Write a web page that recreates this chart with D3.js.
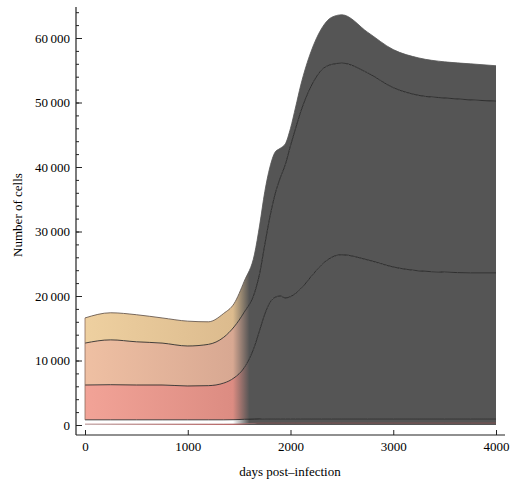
<!DOCTYPE html>
<html>
<head>
<meta charset="utf-8">
<script src="https://cdn.jsdelivr.net/npm/d3@7"></script>
<style>
  body { margin: 0; background: #fff; }
  text { font-family: "Liberation Serif", "DejaVu Serif", serif; }
</style>
</head>
<body>
<svg width="510" height="484"></svg>
<script>
// days post-infection where the curves are read
var days = [0, 250, 500, 750, 1000, 1200, 1350, 1450, 1550, 1650, 1700, 1750, 1800, 1850, 1900,
            1950, 2000, 2050, 2100, 2200, 2300, 2400, 2500, 2750, 3000, 3250, 3500, 3750, 4000];

// cumulative boundaries (bottom to top), number of cells
var base = [150, 150, 150, 150, 150, 150, 150, 160, 220, 280, 300, 300, 300, 300, 300,
            300, 300, 300, 300, 300, 300, 300, 300, 300, 300, 300, 300, 300, 300];
var lower = [800, 800, 800, 800, 800, 800, 800, 820, 880, 920, 940, 950, 950, 950, 950,
             950, 950, 950, 950, 950, 950, 950, 950, 950, 950, 950, 950, 950, 950];
var mid = [6200, 6250, 6200, 6200, 6050, 6100, 6500, 7300, 8900, 12200, 14700, 17200, 19000, 19800, 20000,
           19700, 19900, 20400, 21100, 23000, 24800, 26000, 26400, 25600, 24500, 23900, 23700, 23600, 23600];
var upper = [12700, 13200, 12900, 12700, 12250, 12500, 13600, 15200, 17500, 20500, 23500, 28000, 32300, 35800, 38300,
             40400, 43300, 46000, 48600, 52500, 55000, 55900, 56100, 54600, 52300, 51100, 50700, 50400, 50200];
var total = [16600, 17400, 17100, 16600, 16100, 16000, 17300, 18800, 22300, 26500, 31000, 36200, 40000, 42300, 42900,
             43600, 46000, 49300, 52700, 57900, 61400, 63200, 63600, 60900, 58200, 56900, 56300, 56000, 55700];

var xTicks = [0, 1000, 2000, 3000, 4000];
var yTicks = [0, 10000, 20000, 30000, 40000, 50000, 60000];

var svg = d3.select("svg");

var x = d3.scaleLinear().domain([0, 4000]).range([85, 496]);
var y = d3.scaleLinear().domain([0, 60000]).range([425, 38]);

var zero = days.map(function(){ return 0; });
var bands = [
  { lo: zero,  hi: base,  c0: "#d9d9d9", c1: "#c07070" },
  { lo: base,  hi: lower, c0: "#ffffff", c1: "#ffffff" },
  { lo: lower, hi: mid,   c0: "#f2a397", c1: "#dc8c82" },
  { lo: mid,   hi: upper, c0: "#efc0a3", c1: "#d8a892" },
  { lo: upper, hi: total, c0: "#eed0a0", c1: "#dcbb8e" }
];

var defs = svg.append("defs");
function grad(id, c0, c1){
  var g = defs.append("linearGradient")
    .attr("id", id)
    .attr("gradientUnits", "userSpaceOnUse")
    .attr("x1", x(0)).attr("x2", x(4000)).attr("y1", 0).attr("y2", 0);
  g.append("stop").attr("offset", 0).attr("stop-color", c0);
  g.append("stop").attr("offset", 0.36).attr("stop-color", c1);
  g.append("stop").attr("offset", 0.40).attr("stop-color", "#555555");
  g.append("stop").attr("offset", 1).attr("stop-color", "#555555");
}
bands.forEach(function(b, i){ grad("g" + i, b.c0, b.c1); });
grad("edge", "#5a4a40", "#5a4a40");

var area = d3.area()
  .x(function(d){ return x(d[0]); })
  .y0(function(d){ return y(d[1]); })
  .y1(function(d){ return y(d[2]); })
  .curve(d3.curveMonotoneX);

svg.selectAll("path.band").data(bands).enter()
  .append("path")
  .attr("class", "band")
  .attr("d", function(b){ return area(days.map(function(d, i){ return [d, b.lo[i], b.hi[i]]; })); })
  .attr("fill", function(b, i){ return "url(#g" + i + ")"; });

var line = d3.line()
  .x(function(d){ return x(d[0]); })
  .y(function(d){ return y(d[1]); })
  .curve(d3.curveMonotoneX);

[base, lower, mid, upper, total].forEach(function(s, k){
  svg.append("path")
    .attr("d", line(days.map(function(d, i){ return [d, s[i]]; })))
    .attr("fill", "none")
    .attr("stroke", k == 0 ? "#a05050" : (k == 4 ? "url(#edge)" : "#1c1c1c"))
    .attr("stroke-opacity", k == 0 ? 0.6 : 0.9)
    .attr("stroke-width", 0.9);
});

// left edge of the filled region
svg.append("line")
  .attr("x1", x(0)).attr("x2", x(0))
  .attr("y1", y(lower[0])).attr("y2", y(total[0]))
  .attr("stroke", "#8a6a5a").attr("stroke-width", 0.8);

// axes
var fmt = function(d){ return d == 0 ? "0" : d3.format("d")(d).replace(/(\d\d)(\d\d\d)$/, "$1\u2009$2"); };

var yMinor = d3.range(0, 66000, 2000);
svg.append("g")
  .attr("transform", "translate(76,0)")
  .call(d3.axisLeft(y).tickValues(yMinor).tickSize(-3).tickFormat(""))
  .call(function(g){ g.select(".domain").remove(); });

svg.append("g")
  .attr("transform", "translate(76,0)")
  .call(d3.axisLeft(y).tickValues(yTicks).tickSize(-6).tickPadding(6).tickFormat(fmt))
  .call(function(g){ g.select(".domain").remove(); })
  .selectAll("text")
  .attr("font-size", 13)
  .attr("font-family", "Liberation Serif");

svg.append("g")
  .attr("transform", "translate(0,435)")
  .call(d3.axisBottom(x).tickValues(xTicks).tickSize(-5).tickPadding(7).tickFormat(fmt))
  .call(function(g){ g.select(".domain").remove(); })
  .selectAll("text")
  .attr("font-size", 13)
  .attr("font-family", "Liberation Serif");

svg.selectAll(".tick line").attr("stroke", "#222");

svg.append("line").attr("x1", 76).attr("x2", 76).attr("y1", 7).attr("y2", 435)
  .attr("stroke", "#222").attr("stroke-width", 1.2);
svg.append("line").attr("x1", 76).attr("x2", 505).attr("y1", 435).attr("y2", 435)
  .attr("stroke", "#222").attr("stroke-width", 1.2);

svg.append("text")
  .attr("x", 290).attr("y", 476)
  .attr("text-anchor", "middle")
  .attr("font-size", 13)
  .text("days post\u2013infection");

svg.append("text")
  .attr("transform", "translate(22,215) rotate(-90)")
  .attr("text-anchor", "middle")
  .attr("font-size", 13)
  .text("Number of cells");
</script>
</body>
</html>
